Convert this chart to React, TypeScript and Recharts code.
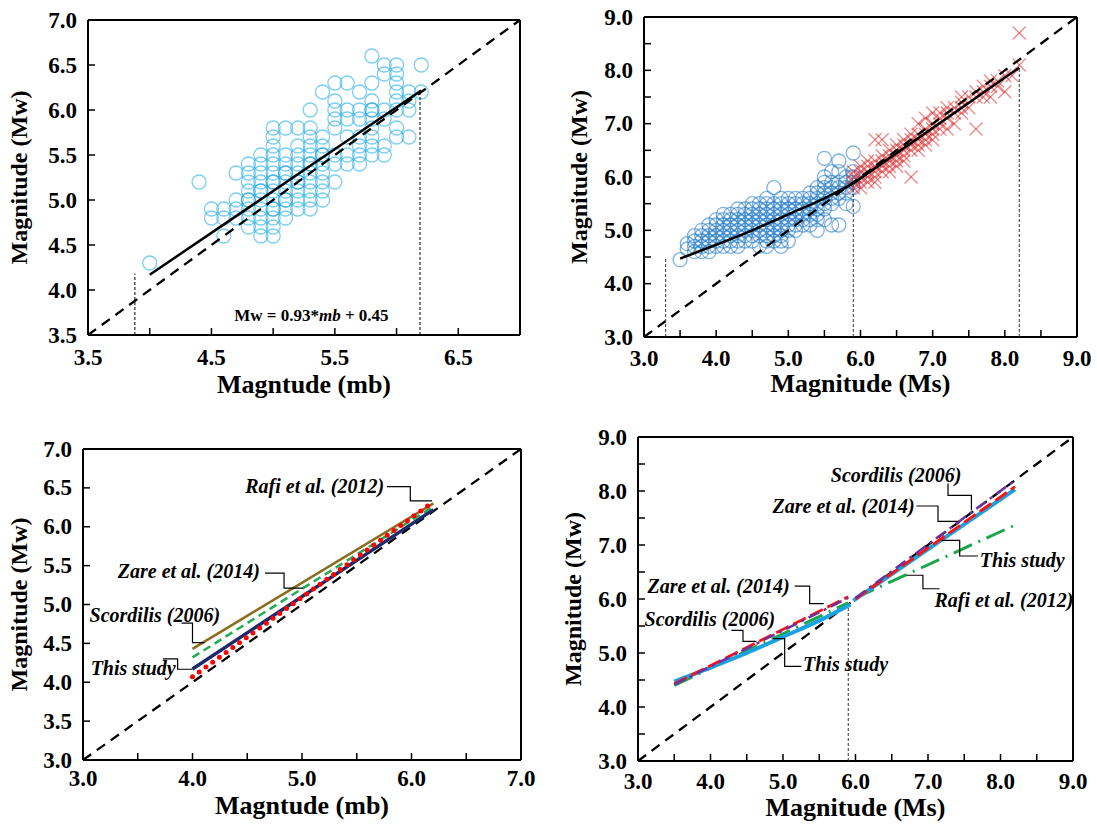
import React from 'react';
import { ScatterChart, Scatter, XAxis, YAxis, ReferenceLine, Label } from 'recharts';

const FONT = "'Liberation Serif', 'Times New Roman', serif";

// ---------------- Panel (a): Mw vs mb ----------------
const aMb = [4.0, 4.4, 4.5, 4.6, 4.7, 4.8, 4.9, 5.0, 5.1, 5.2, 5.3, 5.4, 5.5, 5.6, 5.7, 5.8, 5.9, 6.0, 6.1, 6.2];
const aMw = [
  [4.3],
  [5.2],
  [4.8, 4.9],
  [4.6, 4.8, 4.9],
  [4.8, 4.9, 5.0, 5.3],
  [4.7, 4.8, 4.9, 5.0, 5.1, 5.2, 5.3, 5.4],
  [4.6, 4.7, 4.8, 4.9, 5.0, 5.1, 5.2, 5.3, 5.4, 5.5],
  [4.6, 4.7, 4.8, 4.9, 5.0, 5.1, 5.2, 5.3, 5.4, 5.5, 5.6, 5.7, 5.8],
  [4.8, 4.9, 5.0, 5.1, 5.2, 5.3, 5.4, 5.5, 5.8],
  [4.9, 5.0, 5.1, 5.2, 5.3, 5.4, 5.5, 5.6, 5.8],
  [4.9, 5.0, 5.1, 5.2, 5.3, 5.4, 5.5, 5.6, 5.7, 5.8, 6.0],
  [5.0, 5.1, 5.2, 5.3, 5.4, 5.5, 5.6, 5.7, 6.2],
  [5.2, 5.4, 5.5, 5.8, 5.9, 6.0, 6.1, 6.3],
  [5.4, 5.5, 5.7, 5.9, 6.0, 6.3],
  [5.4, 5.5, 5.6, 5.7, 5.9, 6.0, 6.2],
  [5.5, 5.6, 5.7, 5.8, 5.9, 6.0, 6.1, 6.3, 6.6],
  [5.5, 5.6, 5.9, 6.0, 6.4, 6.5],
  [5.7, 5.8, 6.0, 6.1, 6.2, 6.3, 6.4, 6.5],
  [5.7, 6.0, 6.1, 6.2],
  [6.2, 6.5],
];
// repeated events (darker rings in the dense core)
const aMbRepeat = [4.8, 4.9, 5.0, 5.0, 5.1, 5.1, 5.2, 5.3, 5.4, 5.8];
const aMwRepeat = [5.0, 5.1, 4.9, 5.2, 5.0, 5.3, 5.2, 5.4, 5.5, 6.0];
const aFitX = [4.0, 6.2];
const aFitY = [4.17, 6.216];
const aOneX = [3.5, 7.0];
const aVLow = { x: 3.88, top: 4.18 };
const aVHigh = { x: 6.19, top: 6.22 };
const aXTicks = [3.5, 4.0, 4.5, 5.0, 5.5, 6.0, 6.5, 7.0];
const aXLabels = [3.5, 4.5, 5.5, 6.5];
const aYTicks = [3.5, 4.0, 4.5, 5.0, 5.5, 6.0, 6.5, 7.0];

// ---------------- Panel (b): Mw vs Ms ----------------
const bMsBlue = [3.5, 3.6, 3.7, 3.8, 3.9, 4.0, 4.1, 4.2, 4.3, 4.4, 4.5, 4.6, 4.7, 4.8, 4.9, 5.0, 5.1, 5.2, 5.3, 5.4, 5.5, 5.6, 5.7, 5.8, 5.9];
const bMwBlue = [
  [4.45],
  [4.65, 4.75],
  [4.6, 4.7, 4.8, 4.9],
  [4.6, 4.7, 4.8, 4.9, 5.0],
  [4.6, 4.7, 4.8, 4.9, 5.0, 5.1],
  [4.7, 4.8, 4.9, 5.0, 5.1, 5.2],
  [4.7, 4.8, 4.9, 5.0, 5.1, 5.2, 5.3],
  [4.7, 4.8, 4.9, 5.0, 5.1, 5.2, 5.3],
  [4.7, 4.8, 4.9, 5.0, 5.1, 5.2, 5.3, 5.4],
  [4.8, 4.9, 5.0, 5.1, 5.2, 5.3, 5.4],
  [4.8, 4.9, 5.0, 5.1, 5.2, 5.3, 5.4, 5.5],
  [4.7, 4.9, 5.0, 5.1, 5.2, 5.3, 5.4, 5.5],
  [4.7, 4.8, 4.9, 5.0, 5.1, 5.2, 5.3, 5.4, 5.5, 5.6],
  [4.8, 4.9, 5.0, 5.1, 5.2, 5.3, 5.4, 5.5, 5.8],
  [4.7, 4.8, 4.9, 5.0, 5.1, 5.2, 5.3, 5.4, 5.5, 5.6],
  [4.8, 5.0, 5.1, 5.2, 5.3, 5.4, 5.5, 5.6],
  [5.0, 5.1, 5.2, 5.3, 5.4, 5.5, 5.6],
  [5.1, 5.2, 5.3, 5.4, 5.5, 5.6],
  [5.1, 5.2, 5.3, 5.4, 5.5, 5.6, 5.7],
  [5.0, 5.2, 5.3, 5.4, 5.5, 5.6, 5.7, 5.8],
  [5.2, 5.4, 5.5, 5.6, 5.7, 5.8, 5.9, 6.0, 6.35],
  [5.1, 5.5, 5.6, 5.7, 5.8, 5.9, 6.1],
  [5.1, 5.6, 5.7, 5.8, 5.9, 6.1, 6.3],
  [5.5, 5.7, 5.8, 5.9, 6.0],
  [5.45, 5.8, 5.9, 6.0, 6.1, 6.45],
];
const bMsRed = [5.9, 6.0, 6.1, 6.2, 6.3, 6.4, 6.5, 6.6, 6.7, 6.8, 6.9, 7.0, 7.1, 7.2, 7.3, 7.4, 7.5, 7.6, 7.7, 7.8, 7.9, 8.0, 8.1, 8.2];
const bMwRed = [
  [5.8, 5.9, 6.0, 6.1],
  [5.8, 5.9, 6.0, 6.1, 6.2],
  [5.9, 6.0, 6.1, 6.2, 6.3],
  [5.9, 6.0, 6.1, 6.2, 6.3, 6.7],
  [6.1, 6.2, 6.3, 6.4, 6.7],
  [6.1, 6.2, 6.3, 6.4, 6.5],
  [6.2, 6.3, 6.4, 6.5, 6.6],
  [6.3, 6.4, 6.5, 6.6, 6.7],
  [6.0, 6.5, 6.6, 6.7, 6.8],
  [6.5, 6.6, 6.7, 6.8, 7.0],
  [6.6, 6.7, 6.8, 6.9, 7.1],
  [6.7, 6.8, 6.9, 7.0, 7.2],
  [6.9, 7.0, 7.1, 7.2],
  [6.9, 7.1, 7.2, 7.3],
  [7.0, 7.2, 7.3],
  [7.2, 7.3, 7.4, 7.5],
  [7.3, 7.5],
  [6.9, 7.5, 7.6],
  [7.5, 7.6, 7.7],
  [7.5, 7.7, 7.8],
  [7.7, 7.8],
  [7.6, 7.9],
  [7.9],
  [8.1, 8.7],
];
const bCurveX = [3.5, 4.0, 4.5, 5.0, 5.5, 5.9];
const bCurveY = [4.47, 4.73, 5.0, 5.3, 5.6, 5.88];
const bLineX = [5.9, 8.2];
const bLineY = [5.88, 8.05];
const bOneX = [3.0, 9.0];
const bVLines = [
  { x: 3.3, top: 4.47 },
  { x: 5.9, top: 5.88 },
  { x: 8.2, top: 8.07 },
];
const msTicks = [3, 3.5, 4, 4.5, 5, 5.5, 6, 6.5, 7, 7.5, 8, 8.5, 9];
const msLabels = [3, 4, 5, 6, 7, 8, 9];

// ---------------- Panel (c): relations vs mb ----------------
const cX = [4.0, 6.2];
const cThis = [4.17, 6.22];
const cScordilis = [4.43, 6.30];
const cZare = [4.32, 6.26];
const cRafi = [4.07, 6.32];
const cOneX = [3.0, 7.0];
const cXTicks = [3, 3.5, 4, 4.5, 5, 5.5, 6, 6.5, 7];
const cXLabels = [3, 4, 5, 6, 7];
const cYTicks = [3, 3.5, 4, 4.5, 5, 5.5, 6, 6.5, 7];
const cNotes = [
  { text: 'Rafi et al. (2012)', x: 5.75, y: 6.52, anchor: 'end' },
  { text: 'Zare et al. (2014)', x: 4.616, y: 5.43, anchor: 'end' },
  { text: 'Scordilis (2006)', x: 3.06, y: 4.87, anchor: 'start' },
  { text: 'This study', x: 3.07, y: 4.18, anchor: 'start' },
];
const cLeaderX = [
  [5.776, 5.989, 5.989, 6.188],
  [4.662, 4.836, 4.836, 5.01],
  [3.9, 4.0, 4.0, 4.11],
  [3.73, 3.864, 3.864, 4.0],
];
const cLeaderY = [
  [6.517, 6.517, 6.333, 6.333],
  [5.403, 5.403, 5.21, 5.21],
  [4.76, 4.76, 4.51, 4.51],
  [4.30, 4.30, 4.167, 4.167],
];

// ---------------- Panel (d): relations vs Ms ----------------
const dThis1X = [3.5, 4.0, 4.5, 5.0, 5.5, 5.93];
const dThis1Y = [4.47, 4.73, 5.0, 5.3, 5.6, 5.9];
const dThis2X = [5.97, 8.2];
const dThis2Y = [5.97, 8.03];
const dZare1X = [3.5, 5.9];
const dZare1Y = [4.43, 6.04];
const dZare2X = [6.0, 8.2];
const dZare2Y = [6.0, 8.08];
const dScor1X = [3.5, 5.9];
const dScor1Y = [4.415, 6.02];
const dScor2X = [6.0, 8.2];
const dScor2Y = [6.02, 8.2];
const dRafi1X = [3.5, 5.9];
const dRafi1Y = [4.4, 5.93];
const dRafi2X = [6.0, 8.2];
const dRafi2Y = [6.02, 7.37];
const dV = { x: 5.9, top: 5.92 };
const dNotes = [
  { text: 'Scordilis (2006)', x: 7.46, y: 8.29, anchor: 'end' },
  { text: 'Zare et al. (2014)', x: 6.817, y: 7.72, anchor: 'end' },
  { text: 'This study', x: 7.713, y: 6.717, anchor: 'start' },
  { text: 'Rafi et al. (2012)', x: 7.09, y: 5.976, anchor: 'start' },
  { text: 'Zare et al. (2014)', x: 5.092, y: 6.24, anchor: 'end' },
  { text: 'Scordilis (2006)', x: 3.09, y: 5.624, anchor: 'start' },
  { text: 'This study', x: 5.276, y: 4.79, anchor: 'start' },
];
const dLeaderX = [
  [7.276, 7.276, 7.599, 7.599],
  [6.84, 7.138, 7.138, 7.414],
  [7.185, 7.437, 7.437, 7.69],
  [6.70, 6.93, 6.93, 7.16],
  [5.161, 5.368, 5.368, 5.561],
  [4.288, 4.448, 4.448, 4.633],
  [4.862, 5.023, 5.023, 5.254],
];
const dLeaderY = [
  [8.137, 7.92, 7.92, 7.643],
  [7.722, 7.722, 7.439, 7.439],
  [7.087, 7.087, 6.796, 6.796],
  [6.44, 6.44, 6.19, 6.19],
  [6.24, 6.24, 5.915, 5.915],
  [5.42, 5.42, 5.217, 5.217],
  [5.266, 5.266, 4.754, 4.754],
];

// ---------------- helpers ----------------
const pts = (xs: number[], ys: number[]) => xs.map((x, i) => ({ x, y: ys[i] }));
const cloud = (xs: number[], ys: number[][]) => xs.flatMap((x, i) => ys[i].map((y) => ({ x, y })));
const fmtAll = (v: number) => v.toFixed(1);
const labelsOnly = (list: number[]) => (v: number) => (list.includes(v) ? v.toFixed(1) : '');

const TICK_FONT = 23;
const xTick = (fmt: (v: number) => string) => (p: any) => {
  const label = fmt(p.payload.value);
  if (!label) return <g />;
  return (
    <text x={p.x} y={p.y} textAnchor="middle" dominantBaseline="hanging" fill="#000"
      style={{ fontFamily: FONT, fontSize: TICK_FONT, fontWeight: 700 }}>{label}</text>
  );
};
const yTick = (fmt: (v: number) => string) => (p: any) => {
  const label = fmt(p.payload.value);
  if (!label) return <g />;
  return (
    <text x={p.x} y={p.y} textAnchor="end" dominantBaseline="central" fill="#000"
      style={{ fontFamily: FONT, fontSize: TICK_FONT, fontWeight: 700 }}>{label}</text>
  );
};

const NoDot = () => <g />;

function lineEl(key: string, data: { x: number; y: number }[], stroke: string, width: number, dash?: string, opts: { curve?: string; cap?: string } = {}) {
  return (
    <Scatter
      key={key}
      data={data}
      fill={stroke}
      line={{ stroke, strokeWidth: width, strokeDasharray: dash, strokeLinecap: opts.cap || 'butt', fill: 'none' } as any}
      lineType="joint"
      lineJointType={(opts.curve || 'linear') as any}
      shape={NoDot}
      isAnimationActive={false}
      legendType="none"
    />
  );
}

function noteEl(key: string, x: number, y: number, text: string, anchor: string, size = 20, italic = true) {
  return (
    <Scatter
      key={key}
      data={[{ x, y }]}
      isAnimationActive={false}
      legendType="none"
      shape={(p: any) => (
        <text
          x={p.cx}
          y={p.cy}
          textAnchor={anchor as any}
          dominantBaseline="central"
          fill="#000"
          style={{ fontFamily: FONT, fontSize: size, fontWeight: 700, fontStyle: italic ? 'italic' : 'normal' }}
        >
          {text}
        </text>
      )}
    />
  );
}

const yTitleStyle = { fill: '#000', fontSize: 24, fontWeight: 700, fontFamily: FONT, textAnchor: 'middle' as const };
const xTitleStyle = { fill: '#000', fontSize: 26, fontWeight: 700, fontFamily: FONT, textAnchor: 'middle' as const };
const axisLine = { stroke: '#000', strokeWidth: 2 };
const tickLine = { stroke: '#000', strokeWidth: 1.5 };

function frame(xMax: number, yMax: number) {
  return [
    <ReferenceLine key="fx" x={xMax} stroke="#000" strokeWidth={2} ifOverflow="visible" />,
    <ReferenceLine key="fy" y={yMax} stroke="#000" strokeWidth={2} ifOverflow="visible" />,
  ];
}

const ring = (color: string, op: number) => (p: any) => (
  <circle cx={p.cx} cy={p.cy} r={7} fill="none" stroke={color} strokeOpacity={op} strokeWidth={1.3} />
);
const XMark = (p: any) => {
  const s = 6.5;
  return (
    <g stroke="#d7191c" strokeOpacity={0.5} strokeWidth={1.3}>
      <line x1={p.cx - s} y1={p.cy - s} x2={p.cx + s} y2={p.cy + s} />
      <line x1={p.cx - s} y1={p.cy + s} x2={p.cx + s} y2={p.cy - s} />
    </g>
  );
};

// ---------------- panels ----------------
function PanelA() {
  return (
    <ScatterChart width={540} height={400} margin={{ top: 20, right: 20, left: 0, bottom: 0 }}>
      <XAxis type="number" dataKey="x" domain={[3.5, 7]} ticks={aXTicks} interval={0} allowDataOverflow
        tickSize={-7} tickMargin={21} axisLine={axisLine} tickLine={tickLine}
        tick={xTick(labelsOnly(aXLabels))} height={65}>
        <Label value="Magntude (mb)" position="insideBottom" offset={7} style={xTitleStyle} />
      </XAxis>
      <YAxis type="number" dataKey="y" domain={[3.5, 7]} ticks={aYTicks} interval={0} allowDataOverflow
        tickSize={-7} tickMargin={18} axisLine={axisLine} tickLine={tickLine} tick={yTick(fmtAll)} width={88}>
        <Label value="Magnitude (Mw)" position="insideLeft" angle={-90} offset={18} style={yTitleStyle} />
      </YAxis>
      <Scatter data={cloud(aMb, aMw)} shape={ring('#27aee6', 0.6)} isAnimationActive={false} legendType="none" />
      <Scatter data={pts(aMbRepeat, aMwRepeat)} shape={ring('#1a9ad8', 0.5)} isAnimationActive={false} legendType="none" />
      {lineEl('one', pts(aOneX, aOneX), '#000', 2.3, '10 7')}
      {lineEl('fit', pts(aFitX, aFitY), '#000', 2.5)}
      {lineEl('v1', pts([aVLow.x, aVLow.x], [3.5, aVLow.top]), '#000', 1, '3 2')}
      {lineEl('v2', pts([aVHigh.x, aVHigh.x], [3.5, aVHigh.top]), '#000', 1, '3 2')}
      <Scatter data={[{ x: 5.31, y: 3.72 }]} isAnimationActive={false} legendType="none"
        shape={(p: any) => (
          <text x={p.cx} y={p.cy} textAnchor="middle" dominantBaseline="central" fill="#000"
            style={{ fontFamily: FONT, fontSize: 17, fontWeight: 700 }}>
            Mw = 0.93*<tspan fontStyle="italic">mb</tspan> + 0.45
          </text>
        )} />
      {frame(7, 7)}
    </ScatterChart>
  );
}

function PanelB() {
  return (
    <ScatterChart width={547} height={400} margin={{ top: 17, right: 20, left: 0, bottom: 0 }}>
      <XAxis type="number" dataKey="x" domain={[3, 9]} ticks={msTicks} interval={0} allowDataOverflow
        tickSize={-7} tickMargin={20} axisLine={axisLine} tickLine={tickLine}
        tick={xTick(labelsOnly(msLabels))} height={63}>
        <Label value="Magnitude (Ms)" position="insideBottom" offset={8} style={xTitleStyle} />
      </XAxis>
      <YAxis type="number" dataKey="y" domain={[3, 9]} ticks={msTicks} interval={0} allowDataOverflow
        tickSize={-7} tickMargin={18} axisLine={axisLine} tickLine={tickLine}
        tick={yTick(labelsOnly(msLabels))} width={94}>
        <Label value="Magnitude (Mw)" position="insideLeft" angle={-90} offset={28} style={yTitleStyle} />
      </YAxis>
      <Scatter data={cloud(bMsBlue, bMwBlue)} shape={ring('#1a74c4', 0.55)} isAnimationActive={false} legendType="none" />
      <Scatter data={cloud(bMsRed, bMwRed)} shape={XMark} isAnimationActive={false} legendType="none" />
      {lineEl('one', pts(bOneX, bOneX), '#000', 2.3, '10 7')}
      {lineEl('curve', pts(bCurveX, bCurveY), '#000', 2.5, undefined, { curve: 'monotoneX' })}
      {lineEl('line', pts(bLineX, bLineY), '#000', 2.5)}
      {bVLines.map((v, i) => lineEl('v' + i, pts([v.x, v.x], [3, v.top]), '#333', 1, '3 2'))}
      {frame(9, 9)}
    </ScatterChart>
  );
}

function PanelC() {
  return (
    <ScatterChart width={540} height={416} margin={{ top: 39, right: 19, left: 0, bottom: 0 }}>
      <XAxis type="number" dataKey="x" domain={[3, 7]} ticks={cXTicks} interval={0} allowDataOverflow
        tickSize={-7} tickMargin={17} axisLine={axisLine} tickLine={tickLine}
        tick={xTick(labelsOnly(cXLabels))} height={66}>
        <Label value="Magntude (mb)" position="insideBottom" offset={12} style={xTitleStyle} />
      </XAxis>
      <YAxis type="number" dataKey="y" domain={[3, 7]} ticks={cYTicks} interval={0} allowDataOverflow
        tickSize={-7} tickMargin={18} axisLine={axisLine} tickLine={tickLine} tick={yTick(fmtAll)} width={83}>
        <Label value="Magnitude (Mw)" position="insideLeft" angle={-90} offset={18} style={yTitleStyle} />
      </YAxis>
      {lineEl('one', pts(cOneX, cOneX), '#000', 2.3, '10 7')}
      {lineEl('scor', pts(cX, cScordilis), '#8c6d1f', 2.5)}
      {lineEl('zare', pts(cX, cZare), '#1fae52', 2.5, '8 5')}
      {lineEl('this', pts(cX, cThis), '#1b2a6b', 3.5)}
      {lineEl('rafi', pts(cX, cRafi), '#ff0000', 5, '0 8.3', { cap: 'round' })}
      {cLeaderX.map((xs, i) => lineEl('cl' + i, pts(xs, cLeaderY[i]), '#000', 1.2))}
      {cNotes.map((n, i) => noteEl('cn' + i, n.x, n.y, n.text, n.anchor))}
      {frame(7, 7)}
    </ScatterChart>
  );
}

function PanelD() {
  return (
    <ScatterChart width={547} height={416} margin={{ top: 27, right: 24, left: 0, bottom: 0 }}>
      <XAxis type="number" dataKey="x" domain={[3, 9]} ticks={msTicks} interval={0} allowDataOverflow
        tickSize={-7} tickMargin={19} axisLine={axisLine} tickLine={tickLine}
        tick={xTick(labelsOnly(msLabels))} height={65}>
        <Label value="Magnitude (Ms)" position="insideBottom" offset={10} style={xTitleStyle} />
      </XAxis>
      <YAxis type="number" dataKey="y" domain={[3, 9]} ticks={msTicks} interval={0} allowDataOverflow
        tickSize={-7} tickMargin={18} axisLine={axisLine} tickLine={tickLine}
        tick={yTick(labelsOnly(msLabels))} width={88}>
        <Label value="Magnitude (Mw)" position="insideLeft" angle={-90} offset={22} style={yTitleStyle} />
      </YAxis>
      {lineEl('one', pts(bOneX, bOneX), '#000', 2.3, '10 7')}
      {lineEl('v', pts([dV.x, dV.x], [3, dV.top]), '#333', 1, '3 2')}
      {lineEl('r1', pts(dRafi1X, dRafi1Y), '#1aa64a', 3, '20 7 2 7')}
      {lineEl('r2', pts(dRafi2X, dRafi2Y), '#1aa64a', 3, '20 7 2 7')}
      {lineEl('t1', pts(dThis1X, dThis1Y), '#1ba1e2', 4, undefined, { curve: 'monotoneX' })}
      {lineEl('t2', pts(dThis2X, dThis2Y), '#1ba1e2', 4)}
      {lineEl('z1', pts(dZare1X, dZare1Y), '#ff1010', 2.8, '14 5')}
      {lineEl('z2', pts(dZare2X, dZare2Y), '#ff1010', 2.8, '14 5')}
      {lineEl('s1', pts(dScor1X, dScor1Y), '#7030a0', 2.5, '12 5 3 5')}
      {lineEl('s2', pts(dScor2X, dScor2Y), '#7030a0', 2.5, '12 5 3 5')}
      {dLeaderX.map((xs, i) => lineEl('dl' + i, pts(xs, dLeaderY[i]), '#000', 1.2))}
      {dNotes.map((n, i) => noteEl('dn' + i, n.x, n.y, n.text, n.anchor))}
      {frame(9, 9)}
    </ScatterChart>
  );
}

export default function App() {
  return (
    <div style={{ position: 'absolute', left: 0, top: 0, width: 1097, height: 826, background: '#fff', overflow: 'hidden' }}>
      <div style={{ position: 'absolute', left: 0, top: 0 }}><PanelA /></div>
      <div style={{ position: 'absolute', left: 550, top: 0 }}><PanelB /></div>
      <div style={{ position: 'absolute', left: 0, top: 410 }}><PanelC /></div>
      <div style={{ position: 'absolute', left: 550, top: 410 }}><PanelD /></div>
    </div>
  );
}
